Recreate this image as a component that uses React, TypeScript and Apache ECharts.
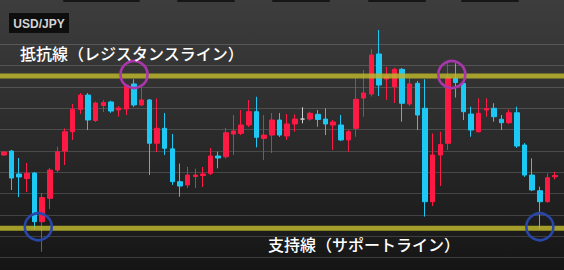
import React, { useEffect, useRef } from 'react';
import * as echarts from 'echarts';

const pair = 'USD/JPY';
const resistanceLabel = '抵抗線（レジスタンスライン）';
const supportLabel = '支持線（サポートライン）';

const open = [
  109.959, 109.996, 109.781, 109.739, 109.790, 109.334, 109.553, 109.818, 109.996, 110.177,
  110.387, 110.521, 110.282, 110.423, 110.456, 110.381, 110.390, 110.625, 110.428, 110.475,
  110.069, 110.209, 110.017, 109.709, 109.678, 109.757, 109.767, 109.787, 109.950, 109.943,
  110.156, 110.162, 110.240, 110.365, 110.115, 110.146, 110.287, 110.137, 110.250, 110.296,
  110.296, 110.340, 110.296, 110.240, 110.240, 110.100, 110.209, 110.493, 110.531, 110.906,
  110.671, 110.601, 110.762, 110.437, 110.631, 110.397, 109.521, 109.959, 110.069, 110.678,
  110.631, 110.343, 110.177, 110.381, 110.397, 110.294, 110.262, 110.355, 110.053, 109.771,
  109.624, 109.521, 109.755,
];
const close = [
  109.987, 109.743, 109.753, 109.787, 109.334, 109.560, 109.818, 109.990, 110.177, 110.387,
  110.521, 110.287, 110.446, 110.451, 110.371, 110.400, 110.615, 110.428, 110.475, 110.069,
  110.209, 110.022, 109.709, 109.668, 109.771, 109.771, 109.781, 109.950, 109.931, 110.168,
  110.184, 110.240, 110.365, 110.125, 110.146, 110.287, 110.146, 110.250, 110.296, 110.296,
  110.350, 110.292, 110.250, 110.268, 110.100, 110.177, 110.481, 110.540, 110.896, 110.615,
  110.700, 110.762, 110.444, 110.625, 110.334, 109.521, 109.959, 110.057, 110.685, 110.639,
  110.365, 110.193, 110.350, 110.395, 110.318, 110.262, 110.355, 110.043, 109.771, 109.631,
  109.521, 109.746, 109.767,
];
const low = [
  109.950, 109.631, 109.565, 109.612, 109.265, 109.052, 109.453, 109.800, 109.865, 110.100,
  110.343, 110.193, 110.268, 110.362, 110.353, 110.320, 110.334, 110.409, 110.418, 109.771,
  109.987, 109.959, 109.678, 109.568, 109.650, 109.650, 109.659, 109.771, 109.834, 109.926,
  109.959, 110.146, 110.221, 110.031, 109.912, 109.978, 110.128, 110.100, 110.177, 110.256,
  110.282, 110.224, 110.146, 110.006, 110.090, 109.990, 110.130, 110.318, 110.507, 110.512,
  110.475, 110.446, 110.271, 110.418, 110.193, 109.382, 109.481, 109.668, 110.006, 110.498,
  110.287, 110.130, 110.170, 110.318, 110.271, 110.193, 110.250, 110.025, 109.753, 109.621,
  109.265, 109.514, 109.731,
];
const high = [
  109.996, 110.006, 109.931, 109.884, 109.800, 109.603, 109.837, 110.037, 110.209, 110.437,
  110.540, 110.540, 110.459, 110.475, 110.468, 110.418, 110.625, 110.669, 110.599, 110.484,
  110.489, 110.353, 110.156, 109.879, 109.849, 109.832, 109.846, 110.025, 109.990, 110.212,
  110.334, 110.381, 110.475, 110.505, 110.334, 110.353, 110.353, 110.343, 110.340, 110.406,
  110.365, 110.381, 110.397, 110.287, 110.334, 110.193, 110.678, 110.756, 110.953, 111.131,
  110.784, 110.775, 110.775, 110.678, 110.653, 110.669, 110.162, 110.177, 110.819, 110.819,
  110.643, 110.412, 110.490, 110.490, 110.444, 110.334, 110.387, 110.412, 110.071, 109.928,
  109.662, 109.787, 109.802,
];

const gridLevels = [109.0, 109.2, 109.4, 109.6, 109.8, 110.0, 110.2, 110.4, 110.6, 110.8, 111.0];
const resistance = 110.7;
const support = 109.272;

// circle annotations: candle indices they sit between, and the level they mark
const touchCircles = [
  { from: 17, to: 17, level: 'resistance' },
  { from: 58, to: 59, level: 'resistance' },
  { from: 4, to: 5, level: 'support' },
  { from: 70, to: 70, level: 'support' },
];

const RED = '#ff1a45';
const CYAN = '#1ec8f5';

export default function App() {
  const ref = useRef<HTMLDivElement>(null);

  useEffect(() => {
    const chart = echarts.init(ref.current!, null, { renderer: 'svg' });
    const categories = open.map((_, i) => String(i + 1));
    const data = open.map((o, i) => [o, close[i], low[i], high[i]]);

    chart.setOption({
      animation: false,
      backgroundColor: {
        type: 'linear', x: 0, y: 0, x2: 0, y2: 1,
        colorStops: [
          { offset: 0, color: '#3d3d3d' },
          { offset: 0.5, color: '#2b2b2b' },
          { offset: 1, color: '#151515' },
        ],
      },
      grid: { left: 0, right: 5, top: 0, bottom: 0 },
      xAxis: { type: 'category', data: categories, show: false, boundaryGap: true },
      yAxis: { type: 'value', min: 108.881, max: 111.412, show: false },
      series: [
        {
          type: 'candlestick',
          data,
          barWidth: 5,
          z: 2,
          itemStyle: {
            color: RED,
            color0: CYAN,
            borderColor: RED,
            borderColor0: CYAN,
            borderColorDoji: '#d0d0d0',
            borderWidth: 1,
          },
        },
      ],
    });

    const yPx = (v: number) => chart.convertToPixel({ yAxisIndex: 0 }, v) as number;
    const xPx = (i: number) => chart.convertToPixel({ xAxisIndex: 0 }, i) as number;
    const W = 564;

    const graphics: any[] = [];
    // top tabs
    [[63, 140], [177, 235], [272, 330], [368, 426], [461, 519]].forEach(([a, b]) => {
      graphics.push({ type: 'rect', z: 0, shape: { x: a, y: 0, width: b - a, height: 2, r: 1 }, style: { fill: '#161616' } });
    });
    gridLevels.forEach((v) => {
      const y = Math.round(yPx(v)) + 0.5;
      graphics.push({ type: 'line', z: 0, silent: true, shape: { x1: 0, y1: y, x2: W, y2: y }, style: { stroke: 'rgba(255,255,255,0.16)', lineWidth: 1 } });
    });
    [resistance, support].forEach((v) => {
      const y = yPx(v);
      graphics.push({ type: 'line', z: 10, silent: true, shape: { x1: 0, y1: y, x2: W, y2: y }, style: { stroke: 'rgba(187,181,45,0.85)', lineWidth: 5 } });
    });
    touchCircles.forEach((c) => {
      const cx = (xPx(c.from) + xPx(c.to)) / 2;
      const isRes = c.level === 'resistance';
      const cy = yPx(isRes ? resistance : support) - 1.5;
      graphics.push({
        type: 'circle', z: 20, silent: true,
        shape: { cx, cy, r: 13.5 },
        style: { fill: 'none', stroke: isRes ? '#a936aa' : '#2847a8', lineWidth: 2.6 },
      });
    });
    graphics.push({ type: 'rect', z: 20, shape: { x: 9, y: 13, width: 60, height: 20 }, style: { fill: '#0e0e0e' } });
    graphics.push({
      type: 'text', z: 21, x: 39, y: 23.5,
      style: { text: pair, fill: '#d4d4d4', fontSize: 12, fontWeight: 'bold', fontFamily: 'Liberation Sans, Arial, sans-serif', textAlign: 'center', textVerticalAlign: 'middle' },
    });
    graphics.push({
      type: 'text', z: 21, x: 20, y: 52.5,
      style: { text: resistanceLabel, fill: '#ffffff', fontSize: 16, fontWeight: 500, fontFamily: 'Noto Sans CJK JP', textAlign: 'left', textVerticalAlign: 'middle' },
    });
    graphics.push({
      type: 'text', z: 21, x: 268, y: 243.5,
      style: { text: supportLabel, fill: '#ffffff', fontSize: 16, fontWeight: 500, fontFamily: 'Noto Sans CJK JP', textAlign: 'left', textVerticalAlign: 'middle' },
    });

    chart.setOption({ graphic: graphics });

    return () => chart.dispose();
  }, []);

  return <div ref={ref} style={{ position: 'fixed', left: 0, top: 0, width: 564, height: 270 }} />;
}
